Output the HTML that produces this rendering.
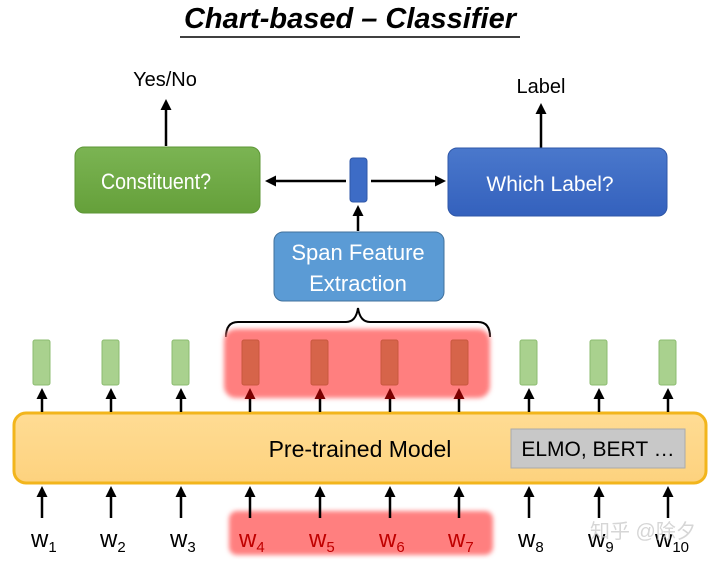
<!DOCTYPE html>
<html><head><meta charset="utf-8"><style>
html,body{margin:0;padding:0;background:#fff;width:720px;height:562px;overflow:hidden}
svg text{font-family:"Liberation Sans","Noto Sans CJK SC",sans-serif}
</style></head><body>
<svg width="720" height="562" viewBox="0 0 720 562" xmlns="http://www.w3.org/2000/svg">
<defs>
<marker id="a" markerWidth="11" markerHeight="11" refX="8" refY="5.5" orient="auto" markerUnits="userSpaceOnUse"><path d="M0,0 L11,5.5 L0,11 z" fill="#000"/></marker>
<marker id="ar" markerWidth="11" markerHeight="11" refX="8" refY="5.5" orient="auto" markerUnits="userSpaceOnUse"><path d="M0,0 L11,5.5 L0,11 z" fill="#7a0000"/></marker>
<linearGradient id="gg" x1="0" y1="0" x2="0" y2="1"><stop offset="0" stop-color="#7bb453"/><stop offset="1" stop-color="#65a03a"/></linearGradient>
<linearGradient id="gb" x1="0" y1="0" x2="0" y2="1"><stop offset="0" stop-color="#4a78cc"/><stop offset="1" stop-color="#3461bd"/></linearGradient>
<linearGradient id="gy" x1="0" y1="0" x2="0" y2="1"><stop offset="0" stop-color="#ffdc94"/><stop offset="1" stop-color="#fdd27e"/></linearGradient>
<filter id="bl"><feGaussianBlur stdDeviation="2.5"/></filter>
</defs>
<text x="350" y="28" text-anchor="middle" font-size="29" font-weight="bold" font-style="italic">Chart-based – Classifier</text>
<line x1="180" y1="37" x2="520" y2="37" stroke="#000" stroke-width="1.5"/>

<text x="165" y="86" text-anchor="middle" font-size="20">Yes/No</text>
<line x1="166" y1="146" x2="166" y2="102" stroke="#000" stroke-width="2.5" marker-end="url(#a)"/>
<text x="541" y="93" text-anchor="middle" font-size="20">Label</text>
<line x1="541" y1="148" x2="541" y2="106" stroke="#000" stroke-width="2.5" marker-end="url(#a)"/>

<rect x="75" y="147" width="185" height="66" rx="9" fill="url(#gg)" stroke="#5d9636" stroke-width="1"/>
<text x="101" y="189" font-size="22" fill="#fff" textLength="110" lengthAdjust="spacingAndGlyphs">Constituent?</text>
<rect x="448" y="148" width="219" height="68" rx="9" fill="url(#gb)" stroke="#2f57a8" stroke-width="1"/>
<text x="550" y="191" text-anchor="middle" font-size="21" fill="#fff">Which Label?</text>
<rect x="350" y="158" width="17" height="44" rx="3" fill="#3d6cc6" stroke="#2f57a8"/>
<line x1="346" y1="181" x2="268" y2="181" stroke="#000" stroke-width="2.5" marker-end="url(#a)"/>
<line x1="371" y1="181" x2="443" y2="181" stroke="#000" stroke-width="2.5" marker-end="url(#a)"/>
<line x1="358" y1="231" x2="358" y2="208" stroke="#000" stroke-width="2.5" marker-end="url(#a)"/>

<rect x="274" y="232" width="170" height="69" rx="9" fill="#5b9bd5" stroke="#41719c" stroke-width="1"/>
<text x="358" y="260" text-anchor="middle" font-size="22" fill="#fff">Span Feature</text>
<text x="358" y="291" text-anchor="middle" font-size="22" fill="#fff">Extraction</text>

<path d="M226,337 Q226,322 238,322 L346,322 Q356,322 358,308 Q360,322 370,322 L478,322 Q490,322 490,337" fill="none" stroke="#000" stroke-width="2"/>

<rect x="224" y="329" width="266" height="69" rx="12" fill="#ff7f7f" filter="url(#bl)"/>
<rect x="229" y="511" width="264" height="44" rx="8" fill="#ff7f7f" filter="url(#bl)"/>

<rect x="14" y="413" width="692" height="70" rx="12" fill="url(#gy)" stroke="#f2b51c" stroke-width="3"/>
<text x="360" y="457" text-anchor="middle" font-size="23">Pre-trained Model</text>
<rect x="511" y="429" width="174" height="39" fill="#c8c8c8" stroke="#aaa"/>
<text x="598" y="456" text-anchor="middle" font-size="21">ELMO, BERT …</text>

<g fill="#a9d18e" stroke="#8cbc70">
<rect x="33" y="340" width="17" height="45" rx="2"/><rect x="102" y="340" width="17" height="45" rx="2"/><rect x="172" y="340" width="17" height="45" rx="2"/>
<rect x="520" y="340" width="17" height="45" rx="2"/><rect x="590" y="340" width="17" height="45" rx="2"/><rect x="659" y="340" width="17" height="45" rx="2"/>
</g>
<g fill="#d6644a" stroke="#c8573f">
<rect x="242" y="340" width="17" height="45" rx="2"/><rect x="311" y="340" width="17" height="45" rx="2"/><rect x="381" y="340" width="17" height="45" rx="2"/><rect x="451" y="340" width="17" height="45" rx="2"/>
</g>
<g stroke="#000" stroke-width="2.5">
<line x1="42" y1="412" x2="42" y2="391" marker-end="url(#a)"/><line x1="111" y1="412" x2="111" y2="391" marker-end="url(#a)"/><line x1="181" y1="412" x2="181" y2="391" marker-end="url(#a)"/>
<line x1="250" y1="412" x2="250" y2="391" marker-end="url(#ar)"/><line x1="320" y1="412" x2="320" y2="391" marker-end="url(#ar)"/><line x1="390" y1="412" x2="390" y2="391" marker-end="url(#ar)"/><line x1="459" y1="412" x2="459" y2="391" marker-end="url(#ar)"/>
<line x1="529" y1="412" x2="529" y2="391" marker-end="url(#a)"/><line x1="599" y1="412" x2="599" y2="391" marker-end="url(#a)"/><line x1="668" y1="412" x2="668" y2="391" marker-end="url(#a)"/>
<line x1="42" y1="518" x2="42" y2="489" marker-end="url(#a)"/><line x1="111" y1="518" x2="111" y2="489" marker-end="url(#a)"/><line x1="181" y1="518" x2="181" y2="489" marker-end="url(#a)"/>
<line x1="250" y1="518" x2="250" y2="489" marker-end="url(#a)"/><line x1="320" y1="518" x2="320" y2="489" marker-end="url(#a)"/><line x1="390" y1="518" x2="390" y2="489" marker-end="url(#a)"/><line x1="459" y1="518" x2="459" y2="489" marker-end="url(#a)"/>
<line x1="529" y1="518" x2="529" y2="489" marker-end="url(#a)"/><line x1="599" y1="518" x2="599" y2="489" marker-end="url(#a)"/><line x1="668" y1="518" x2="668" y2="489" marker-end="url(#a)"/>
</g>
<g font-size="24">
<text x="31" y="547">w<tspan font-size="15" dy="5">1</tspan></text>
<text x="100" y="547">w<tspan font-size="15" dy="5">2</tspan></text>
<text x="170" y="547">w<tspan font-size="15" dy="5">3</tspan></text>
<g fill="#c00000">
<text x="239" y="547">w<tspan font-size="15" dy="5">4</tspan></text>
<text x="309" y="547">w<tspan font-size="15" dy="5">5</tspan></text>
<text x="379" y="547">w<tspan font-size="15" dy="5">6</tspan></text>
<text x="448" y="547">w<tspan font-size="15" dy="5">7</tspan></text>
</g>
<text x="518" y="547">w<tspan font-size="15" dy="5">8</tspan></text>
<text x="588" y="547">w<tspan font-size="15" dy="5">9</tspan></text>
<text x="655" y="547">w<tspan font-size="15" dy="5">10</tspan></text>
</g>
<text x="590" y="538" font-size="20" fill="#ccc" fill-opacity="0.8">知乎 @除夕</text>
</svg>
</body></html>
